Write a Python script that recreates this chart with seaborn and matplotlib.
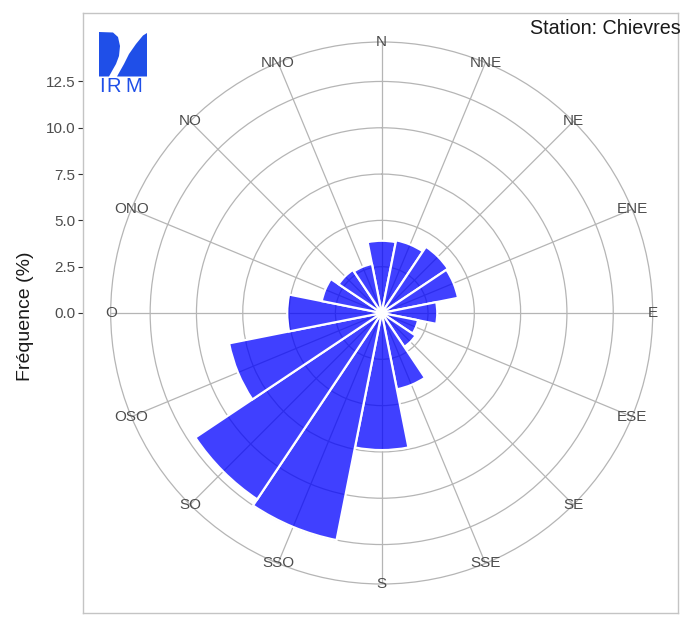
import numpy as np
import pandas as pd
import matplotlib
matplotlib.use("Agg")
import matplotlib.pyplot as plt
from matplotlib.patches import Polygon
import seaborn as sns

directions = ["N", "NNE", "NE", "ENE", "E", "ESE", "SE", "SSE",
              "S", "SSO", "SO", "OSO", "O", "ONO", "NO", "NNO"]
frequences = [3.9, 4.0, 4.3, 4.2, 3.0, 2.0, 2.2, 4.2,
              7.4, 12.5, 12.1, 8.4, 5.1, 3.3, 2.8, 2.7]
r_ticks = [0.0, 2.5, 5.0, 7.5, 10.0, 12.5]
station = "Station: Chievres"

sns.set_theme(style="white")
plt.rcParams["font.family"] = ["Liberation Sans", "DejaVu Sans"]

W, H = 683, 617
fig = plt.figure(figsize=(W / 100, H / 100), dpi=100)
fig.patch.set_facecolor("white")


def px(x0, y0, x1, y1):
    return [x0 / W, 1 - y1 / H, (x1 - x0) / W, (y1 - y0) / H]


cx, cy, R = 381.7, 313, 271
rmax = 14.63
scale = rmax / R

# cadre du panneau avec l'axe des frequences a gauche
frame = fig.add_axes(px(83, 13, 678, 613))
frame.set_xlim(0, 1)
frame.set_ylim(-(613 - cy) * scale, (cy - 13) * scale)
frame.set_xticks([])
frame.set_yticks(r_ticks)
frame.set_yticklabels([f"{v:.1f}" for v in r_ticks])
frame.tick_params(axis="y", left=True, length=3.5, width=0.8, color="#333333",
                  labelcolor="#4d4d4d", labelsize=11, pad=2)
for s in frame.spines.values():
    s.set_color("#c4c4c4")
    s.set_linewidth(1)
frame.set_facecolor("white")

# rose des vents
ax = fig.add_axes(px(cx - R, cy - R, cx + R, cy + R), projection="polar")
ax.set_theta_zero_location("N")
ax.set_theta_direction(-1)

df = pd.DataFrame({
    "direction": directions,
    "theta": np.deg2rad(np.arange(len(directions)) * 360 / len(directions)),
    "freq": frequences,
})
sns.barplot(data=df, x="theta", y="freq", orient="x", native_scale=True,
            width=1, errorbar=None, saturation=1,
            facecolor=(0, 0, 1, 0.75), edgecolor="white", linewidth=1.6, ax=ax)

ax.set_ylim(0, rmax)
ax.set_yticks(r_ticks[1:])
ax.set_yticklabels([])
ax.set_xticks(df["theta"])
ax.set_xticklabels([])
ax.tick_params(length=0)
ax.grid(True, color="#b5b5b5", linewidth=0.9)
ax.set_axisbelow(True)
ax.spines["polar"].set_color("#b5b5b5")
ax.spines["polar"].set_linewidth(0.9)
ax.set_facecolor("none")
ax.set_xlabel("")
ax.set_ylabel("")
for t, d in zip(df["theta"], directions):
    ax.text(t, rmax, d, ha="center", va="center", fontsize=11,
            color="#4d4d4d", clip_on=False)

fig.text(26 / W, 1 - 316 / H, "Fréquence (%)", rotation=90, ha="center",
         va="center", fontsize=14, color="#1a1a1a")
fig.text(530 / W, 1 - 28 / H, station, ha="left", va="center",
         fontsize=14.2, color="#1a1a1a")

# logo IRM
logo = fig.add_axes(px(96, 28, 150, 96))
logo.set_xlim(96, 150)
logo.set_ylim(96, 28)
logo.axis("off")
bleu = "#1f4fe8"
logo.add_patch(Polygon([(99, 32), (113, 32.5), (118, 37), (120, 46),
                        (119, 56), (116, 64), (112, 71), (109, 76.5),
                        (99, 76.5)], closed=True, color=bleu, lw=0))
logo.add_patch(Polygon([(117, 76.5), (147, 76.5), (147, 33), (143, 35.5),
                        (136, 44), (129, 54), (124, 64), (119.5, 72)],
                       closed=True, color=bleu, lw=0))
for lx, lt in zip([101.5, 114, 134], ["I", "R", "M"]):
    logo.text(lx, 86.5, lt, ha="center", va="center", fontsize=14.5,
              color=bleu)

fig.savefig("out.png", dpi=100)
